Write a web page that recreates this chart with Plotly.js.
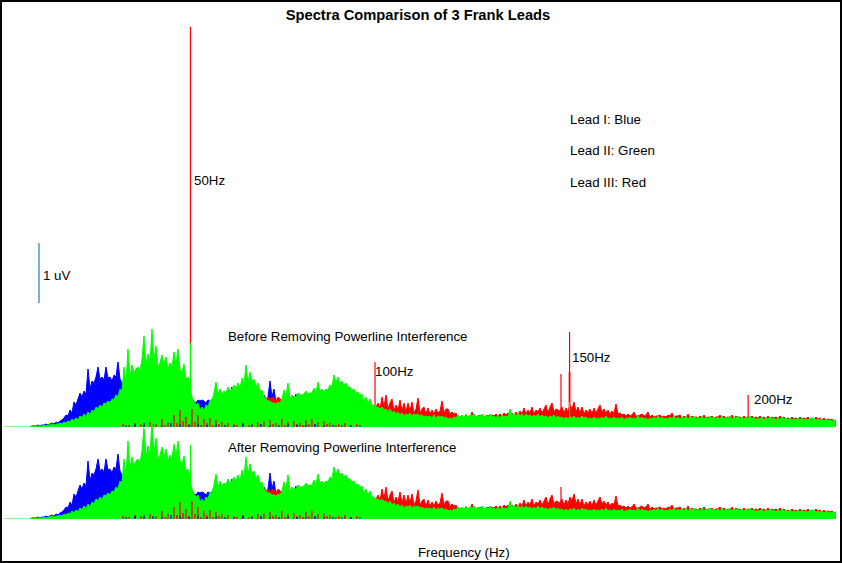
<!DOCTYPE html>
<html><head><meta charset="utf-8">
<script src="https://cdn.plot.ly/plotly-3.0.1.min.js"></script>
<style>html,body{margin:0;padding:0;background:#fff}#c{width:842px;height:563px}</style>
</head><body><div id="c"></div>
<script>
// amplitudes in counts: 60 counts = 1 uV; sampled every 0.5376 Hz
const countsPerUv = 60, df = 0.5376;
const blueStartHz = 6.855, greenStartHz = -0.134, redAStartHz = 68.68, redBStartHz = 99.87, floorStartHz = 31.05, floorDf = 0.806;
const leadI = [0,1,1,1,2,1,2,2,3,2,3,4,3,5,4,6,
 7,9,12,11,17,14,25,22,28,34,30,36,33,58,38,
 46,44,50,60,48,50,47,60,49,50,46,52,50,65,48,
 44,40,42,40,42,40,38,40,38,42,40,42,38,40,38,40,38,40,38,36,38,36,38,36,34,36,34,32,34,32,30,28,26,30,28,26,26,
 24,27,26,27,26,24,27,26,27,
 30,28,33,30,28,30,34,30,33,40,30,28,30,32,30,34,28,30,34,30,32,34,30,36,30,32,28,30,46,30,
 38,25,26,22,24,20,22,20,22,20,26,33,24,26,22,28,24,34,24,26];
const leadIIIa = [28,30,29,28,30,27,30,29,26,30,28,27,29,24,22,24,22,20,24,22,20];
const leadIIIb = [20,24,18,30,20,32,18,24,28,16,22,17,27,
 16,24,15,24,16,25,14,18,29,14,18,20,13,19,
 13,17,13,18,14,16,26,14,18,18,13,15,13,14,
 9,10,8,10,9,11,9,15,10,11,9,12,10,11,10,12,10,12,11,13,11,
 13,11,14,12,14,12,14,11,15,12,16,13,19,13,17,
 14,20,13,17,15,19,14,18,22,14,20,24,15,18,17,16,
 20,14,19,15,22,18,25,15,20,14,20,13,17,14,18,13,19,14,18,
 22,15,18,14,17,13,16,14,23,13,14,12,13,11,13,11,12,15,11,11,
 12,13,11,12,15,10,12,10,11,11,12,10,11,10,12,11,14,10,11,11,
 12,9,11,9,13,9,11,9,10,9,11,9,12,9,10,9,11,9,10,10,
 12,9,11,9,10,9,12,9,11,9,10,9,11,9,10,9,11,9,10,9,
 11,9,10,8,11,8,10,9,10,8,11,9,10,8,9,8,10,8,9,8,
 10,8,9,8,10,8,9,8,10,8,9,7,9,7,8,7,8,6,7];
const leadII = [0,0,0,0,0,0,0,0,0,0,0,0,0,
 0,1,0,1,1,1,1,2,1,2,2,3,2,3,3,4,
 3,5,4,6,5,8,6,9,7,11,9,13,10,15,12,
 17,15,20,18,22,19,24,23,26,24,28,27,32,30,38,
 36,60,42,78,50,62,54,58,60,56,68,91,62,73,64,
 98,66,81,60,64,72,62,70,58,64,60,75,62,78,58,
 54,63,48,50,38,30,26,22,24,17,20,16,22,20,27,
 26,34,45,32,38,33,36,34,40,36,38,42,38,44,38,
 49,42,62,44,55,46,48,40,44,36,37,30,28,26,26,
 24,24,23,25,24,28,37,30,44,28,32,30,30,34,32,
 32,33,36,33,34,34,39,34,45,36,38,35,38,37,42,
 40,52,44,50,44,46,42,44,40,40,37,38,34,35,32,
 33,26,30,24,28,22,22,20,20,18,20,17,18,15,18,
 14,16,13,15,12,14,11,13,12,14,11,13,12,13,11,
 12,10,11,10,11,9,12,9,11,10,11,9,10,8,9,
 8,10,9,12,10,12,9,13,10,12,11,13,10,12,10,
 13,10,12,10,13,10,11,9,12,9,12,10,11,10,18,
 12,13,11,14,11,13,10,13,11,12,10,12,10,13,10,
 12,10,11,9,11,10,12,9,11,9,10,8,10,8,10,
 9,11,8,10,8,11,9,10,8,9,8,10,8,9,8,
 10,8,11,8,9,8,10,8,9,8,10,7,9,8,10,8,9,8,11,8,
 10,8,9,7,9,8,10,8,11,8,10,8,9,8,10,8,11,8,10,8,
 10,8,11,8,10,9,11,8,10,8,11,8,10,8,11,9,10,8,10,8,
 11,8,10,8,11,8,10,9,11,8,10,8,10,8,11,8,10,7,9,8,
 10,7,9,8,10,8,9,7,9,7,10,8,9,7,9,7,8,7,9,7,
 9,7,8,7,9,8,9,7,8,7,8,6,8,6,7,6,7,6];
const redFloor = [0,3,0,2,0,4,0,3,2,0,5,0,3,0,8,2,5,0,12,4,17,6,10,3,18,5,12,2,8,4,9,2,7,3,5,0,4,0,3,2,0,4,0,2,3,0,5,2,6,0,7,3,4,0,8,2,5,0,6,3,4,2,7,3,8,2,5,0,6,3,4,0,2,3,0,4,0,2,0,3,0];
const blueFloor = [0,0,2,0,0,3,0,0,4,0,0,3,0,0,2,0,0,4,0,0,3,0,0,2,0,0,3,0,0,2,0,0,3,0,0,2,0,0,2,0,0,3,0,0,2,0,0,3,0,0,2,0,0,2,0,0,3,0,0,2,0,0,2,0,0,3,0,0,2,0,0,2,0,0,2,0,0,2,0,0,2];
const lineHz = [50, 99.6, 149.6, 151.9, 199.9];
const lineBeforeRed = [400, 65, 53, 95, 32];
const lineAfterRed = [0, 0, 32, 0, 0];
const greenLineHz = [50, 151.9];
const greenLineBefore = [84, 25];
const greenLineAfter = [74, 0];
const paleHz = [49.7, 151.9];
const paleBefore = [40, 55];
const scaleBarHz = 9.27, scaleBarBase = 124;
const labels = [
 ["50Hz",194,180],["1 uV",43,275],["Lead I: Blue",570,120],["Lead II: Green",570,151],["Lead III: Red",570,182],
 ["Before Removing Powerline Interference",228,336],["After Removing Powerline Interference",228,447],
 ["100Hz",375,371],["150Hz",572,357],["200Hz",754,399],["Frequency (Hz)",418,552]];

const BLUE='#0000ff', RED='#ff0000', GREEN='#00ff00';
function spec(vals,start,step,color,yax){
 return {x:vals.map((_,i)=>start+i*step),y:vals,type:'scatter',mode:'lines',yaxis:yax,hoverinfo:'skip',showlegend:false,
  line:{color:color,width:1,simplify:false},fill:'tozeroy',fillcolor:color};
}
function sticks(hz,h,color,yax,width=1,opacity=1){
 const x=[],y=[];
 hz.forEach((f,i)=>{ if(h[i]>0){x.push(f,f,null);y.push(0,h[i],null);} });
 return {x,y,type:'scatter',mode:'lines',yaxis:yax,hoverinfo:'skip',showlegend:false,opacity,line:{color,width}};
}
const floorHz = redFloor.map((_,i)=>floorStartHz+i*floorDf);
const data=[];
[['y',lineBeforeRed,greenLineBefore],['y2',lineAfterRed,greenLineAfter]].forEach(([ax,redL,greenL])=>{
 data.push(spec(leadI,blueStartHz,df,BLUE,ax));
 if(ax==='y') data.push(sticks(paleHz,paleBefore,RED,ax,3,0.4));
 data.push(sticks(lineHz,redL,RED,ax,1.2));
 data.push(spec(leadIIIa,redAStartHz,df,RED,ax));
 data.push(spec(leadIIIb,redBStartHz,df,RED,ax));
 data.push(spec(leadII,greenStartHz,df,GREEN,ax));
 data.push(sticks(greenLineHz,greenL,GREEN,ax,1.2));
 data.push(sticks(floorHz,redFloor,RED,ax,1.4));
 data.push(sticks(floorHz,blueFloor,BLUE,ax,1.2));
});
data.push({x:[scaleBarHz,scaleBarHz],y:[scaleBarBase,scaleBarBase+countsPerUv],type:'scatter',mode:'lines',yaxis:'y',hoverinfo:'skip',showlegend:false,line:{color:'#5b9bd5',width:1.6}});

const W=842,H=563,font='"Liberation Sans",Arial,sans-serif';
const hidden={visible:false,fixedrange:true};
const layout={width:W,height:H,margin:{l:0,r:0,t:0,b:0},paper_bgcolor:'#fff',plot_bgcolor:'rgba(0,0,0,0)',showlegend:false,
 title:{text:'<b>Spectra Comparison of 3 Frank Leads</b>',x:418/W,xanchor:'center',y:1-15/H,yanchor:'middle',font:{family:font,size:14.7,color:'#000'}},
 xaxis:{...hidden,range:[-4.5/3.72,(W-4.5)/3.72],domain:[0,1]},
 yaxis:{...hidden,range:[0,427],domain:[(H-427)/H,1]},
 yaxis2:{...hidden,range:[0,519],domain:[(H-519)/H,1]},
 shapes:[{type:'rect',xref:'paper',yref:'paper',x0:1/W,x1:1-1/W,y0:1/H,y1:1-1/H,line:{color:'#000',width:2},fillcolor:'rgba(0,0,0,0)',layer:'above'}],
 annotations:labels.map(([t,px,py])=>({text:t,xref:'paper',yref:'paper',x:px/W,y:1-py/H,xanchor:'left',yanchor:'middle',showarrow:false,borderpad:0,borderwidth:0,font:{family:font,size:13.3,color:'#000'}}))
};
Plotly.newPlot('c',data,layout,{staticPlot:true,displayModeBar:false});
</script></body></html>
